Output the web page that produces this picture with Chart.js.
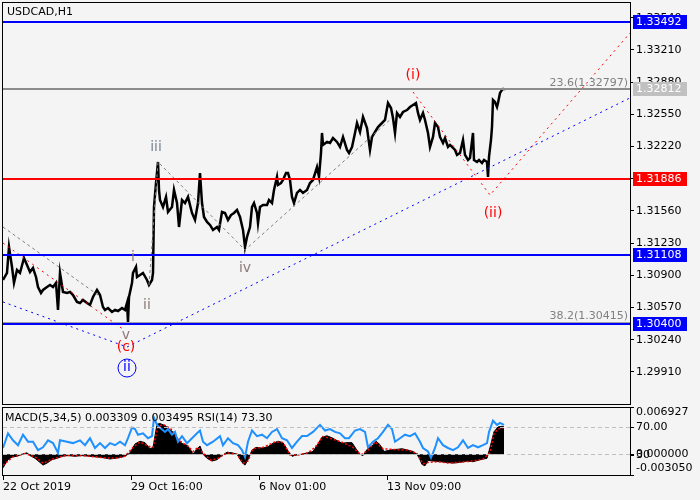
<!DOCTYPE html>
<html>
<head>
<meta charset="utf-8">
<script src="https://cdn.jsdelivr.net/npm/chart.js@4.4.1/dist/chart.umd.min.js"></script>
<style>
  body { margin: 0; background: #f4f4f4; }
  #wrap { position: relative; width: 700px; height: 500px; }
  canvas { position: absolute; left: 0; }
</style>
</head>
<body>
<div id="wrap">
  <canvas id="priceChart" width="700" height="406" style="top:0px"></canvas>
  <canvas id="macdChart" width="700" height="95" style="top:405px"></canvas>
</div>
<script>
// ---- data ----
var symbolTitle = 'USDCAD,H1';
var barCount = 627;

// right price scale
var priceMin = 1.29581;
var priceMax = 1.33691;
var priceTicks = [1.29910, 1.30240, 1.30570, 1.30900, 1.31230, 1.31560, 1.31890, 1.32220, 1.32550, 1.32880, 1.33210, 1.33540];

// time axis (bar index -> label)
var timeLabelBars = [0, 128, 256, 384];
var timeLabels = ['22 Oct 2019', '29 Oct 16:00', '6 Nov 01:00', '13 Nov 09:00'];

// H1 closes, [bar, price]
var priceCloses = [
  [0, 1.30852], [4, 1.30924], [6, 1.31190], [9, 1.30985], [11, 1.30822], [14, 1.30954], [17, 1.30924], [21, 1.31077],
  [24, 1.31006], [27, 1.30934], [30, 1.30975], [33, 1.30883], [35, 1.30780], [38, 1.30719], [40, 1.30750], [44, 1.30780],
  [47, 1.30801], [50, 1.30780], [53, 1.30822], [55, 1.30545], [57, 1.30924], [60, 1.30729], [64, 1.30719], [67, 1.30729],
  [70, 1.30698], [74, 1.30627], [77, 1.30616], [80, 1.30647], [84, 1.30616], [87, 1.30596], [90, 1.30678], [94, 1.30750],
  [97, 1.30698], [100, 1.30575], [102, 1.30545], [105, 1.30565], [109, 1.30524], [112, 1.30545], [115, 1.30534], [119, 1.30565],
  [122, 1.30545], [124, 1.30616], [125, 1.30422], [126, 1.30678], [129, 1.30822], [130, 1.30924], [133, 1.30985], [134, 1.30883],
  [137, 1.30903], [140, 1.30924], [144, 1.30852], [146, 1.30801], [149, 1.30852], [150, 1.30924], [151, 1.31600], [153, 1.31846],
  [155, 1.32062], [156, 1.31775], [157, 1.31672], [160, 1.31600], [163, 1.31703], [165, 1.31549], [169, 1.31600], [171, 1.31775],
  [174, 1.31641], [176, 1.31395], [179, 1.31672], [182, 1.31641], [185, 1.31703], [189, 1.31539], [192, 1.31467], [195, 1.31641],
  [197, 1.31949], [199, 1.31641], [201, 1.31498], [204, 1.31447], [207, 1.31416], [210, 1.31365], [214, 1.31395], [216, 1.31365],
  [219, 1.31549], [222, 1.31539], [225, 1.31467], [228, 1.31518], [231, 1.31539], [234, 1.31570], [237, 1.31498], [240, 1.31365],
  [242, 1.31190], [244, 1.31293], [247, 1.31395], [249, 1.31600], [251, 1.31641], [254, 1.31539], [255, 1.31436], [257, 1.31600],
  [260, 1.31621], [264, 1.31621], [266, 1.31672], [269, 1.31641], [271, 1.31775], [274, 1.31908], [275, 1.31826], [278, 1.31846],
  [280, 1.31877], [283, 1.31949], [285, 1.31949], [287, 1.31877], [289, 1.31703], [291, 1.31641], [294, 1.31744], [297, 1.31775],
  [300, 1.31744], [304, 1.31775], [307, 1.31846], [310, 1.31877], [314, 1.32010], [316, 1.31908], [318, 1.32154], [319, 1.32359],
  [320, 1.32236], [324, 1.32267], [327, 1.32256], [330, 1.32307], [334, 1.32267], [337, 1.32215], [340, 1.32318], [344, 1.32185],
  [346, 1.32154], [349, 1.32215], [352, 1.32359], [354, 1.32461], [357, 1.32369], [360, 1.32523], [364, 1.32410], [367, 1.32185],
  [369, 1.32318], [372, 1.32369], [375, 1.32420], [379, 1.32461], [382, 1.32492], [385, 1.32666], [388, 1.32615], [390, 1.32512],
  [392, 1.32359], [394, 1.32564], [397, 1.32523], [400, 1.32574], [404, 1.32594], [407, 1.32625], [410, 1.32646], [413, 1.32666],
  [415, 1.32564], [417, 1.32492], [420, 1.32564], [422, 1.32492], [425, 1.32359], [427, 1.32215], [430, 1.32318], [432, 1.32461],
  [435, 1.32420], [437, 1.32318], [440, 1.32256], [442, 1.32307], [445, 1.32215], [447, 1.32236], [450, 1.32205], [452, 1.32185],
  [454, 1.32134], [457, 1.32154], [460, 1.32287], [462, 1.32134], [465, 1.32082], [467, 1.32103], [470, 1.32359], [471, 1.32082],
  [474, 1.32062], [476, 1.32082], [479, 1.32051], [481, 1.32082], [484, 1.32062], [485, 1.31908], [486, 1.32113], [488, 1.32287],
  [489, 1.32420], [490, 1.32697], [492, 1.32677], [494, 1.32625], [495, 1.32666], [497, 1.32769], [499, 1.32800], [500, 1.32810],
  [501, 1.32820]
];

// horizontal levels and fibo levels
var levelValues = [1.33492, 1.32812, 1.31886, 1.31108, 1.30400];
var fibLevels = [1.32797, 1.30415];
var fibNames = ['23.6', '38.2'];

// trend lines, [bar, price]
var blueTrend = [[0, 1.30627], [124, 1.30165], [627, 1.32718]];
var redTrendA = [[0, 1.31231], [121, 1.30340]];
var redTrendB = [[410, 1.32779], [487, 1.31723], [627, 1.33384]];
var grayTrendA = [[0, 1.31395], [95, 1.30698]];
var grayTrendB = [[146, 1.30801], [155, 1.32062], [242, 1.31160], [389, 1.32513]];

// wave marks
var waveText = ['i', 'ii', 'iii', 'iv', 'v', '(c)', 'ii', '(i)', '(ii)'];
var waveBar = [130, 144, 153, 242, 123, 123, 124, 410, 490];
var wavePrice = [1.31088, 1.30596, 1.32216, 1.30975, 1.30288, 1.30165, 1.29960, 1.32953, 1.31539];

// MACD histogram [bar, value]
var macdMain = [
  [0, -0.0020], [2, -0.0015], [5, -0.0008], [9, -0.0004], [14, -0.0003], [19, 0.0000], [24, 0.0002], [27, -0.0002],
  [32, -0.0006], [37, -0.0012], [40, -0.0016], [44, -0.0013], [49, -0.0008], [54, -0.0006], [59, -0.0003], [65, -0.0002],
  [72, -0.0003], [79, -0.0002], [87, -0.0003], [94, -0.0004], [100, -0.0005], [107, -0.0007], [112, -0.0006], [117, -0.0005],
  [122, -0.0003], [127, 0.0002], [132, 0.0015], [137, 0.0019], [142, 0.0017], [147, 0.0008], [150, 0.0010], [154, 0.0044],
  [157, 0.0045], [162, 0.0042], [167, 0.0036], [172, 0.0030], [176, 0.0019], [180, 0.0015], [184, 0.0013], [187, 0.0008],
  [190, 0.0000], [194, 0.0008], [197, 0.0012], [200, 0.0000], [204, -0.0006], [209, -0.0010], [214, -0.0008], [219, -0.0002],
  [224, 0.0003], [229, 0.0002], [234, 0.0000], [239, -0.0012], [242, -0.0016], [245, -0.0008], [249, 0.0006], [253, 0.0010],
  [259, 0.0009], [265, 0.0011], [270, 0.0016], [275, 0.0019], [280, 0.0017], [285, 0.0005], [289, -0.0003], [294, -0.0001],
  [299, 0.0000], [305, 0.0002], [310, 0.0004], [315, 0.0015], [319, 0.0025], [324, 0.0027], [329, 0.0024], [334, 0.0020],
  [339, 0.0016], [344, 0.0017], [349, 0.0017], [353, 0.0008], [357, 0.0000], [360, -0.0002], [364, 0.0007], [369, 0.0012],
  [373, 0.0019], [377, 0.0014], [381, 0.0004], [387, 0.0006], [393, 0.0007], [399, 0.0008], [405, 0.0006], [410, 0.0004],
  [414, 0.0000], [417, -0.0008], [419, -0.0015], [422, -0.0017], [425, -0.0009], [430, -0.0010], [437, -0.0011], [444, -0.0012],
  [450, -0.0013], [457, -0.0012], [464, -0.0010], [470, -0.0011], [477, -0.0008], [484, -0.0006], [487, 0.0010], [491, 0.0033],
  [495, 0.0040], [499, 0.0041], [501, 0.0040]
];

// MACD signal [bar, value]
var macdSignal = [
  [0, -0.0016], [10, -0.0004], [22, 0.0001], [32, -0.0004], [40, -0.0013], [50, -0.0007], [62, -0.0002], [80, -0.0002],
  [100, -0.0005], [112, -0.0006], [122, -0.0003], [130, 0.0010], [137, 0.0018], [145, 0.0012], [150, 0.0010], [155, 0.0040],
  [160, 0.0044], [168, 0.0037], [176, 0.0020], [185, 0.0012], [190, 0.0004], [195, 0.0010], [200, 0.0002], [208, -0.0009],
  [215, -0.0006], [224, 0.0002], [234, 0.0000], [240, -0.0013], [245, -0.0010], [250, 0.0008], [260, 0.0010], [272, 0.0018],
  [280, 0.0017], [287, -0.0001], [295, -0.0001], [305, 0.0002], [312, 0.0010], [320, 0.0026], [330, 0.0022], [340, 0.0017],
  [350, 0.0010], [358, -0.0001], [365, 0.0006], [372, 0.0018], [380, 0.0008], [390, 0.0007], [405, 0.0006], [414, 0.0001],
  [420, -0.0014], [425, -0.0012], [435, -0.0011], [445, -0.0013], [455, -0.0012], [470, -0.0010], [480, -0.0007], [487, 0.0002],
  [491, 0.0030], [495, 0.0037], [501, 0.0039]
];

// RSI(14) [bar, value]
var rsiValues = [
  [0, 40], [5, 61], [10, 51], [15, 44], [20, 59], [25, 49], [30, 49], [35, 37], [40, 41], [45, 51], [50, 47], [55, 33],
  [57, 51], [64, 49], [70, 47], [77, 51], [82, 44], [87, 54], [92, 40], [97, 47], [102, 40], [107, 47], [112, 44], [117, 49],
  [122, 44], [125, 54], [129, 69], [132, 67], [135, 59], [140, 61], [145, 54], [149, 57], [151, 83], [154, 73], [157, 69],
  [162, 63], [165, 67], [169, 59], [172, 63], [175, 49], [179, 57], [184, 47], [189, 54], [194, 61], [197, 65], [200, 49],
  [204, 44], [210, 49], [217, 57], [220, 44], [225, 54], [230, 47], [235, 44], [239, 37], [242, 27], [245, 49], [249, 65],
  [254, 57], [259, 59], [264, 54], [269, 63], [274, 67], [279, 54], [284, 51], [289, 40], [294, 49], [299, 57], [304, 57],
  [310, 63], [317, 73], [322, 65], [327, 67], [332, 63], [337, 61], [342, 54], [346, 54], [352, 65], [357, 67], [362, 63],
  [365, 41], [370, 49], [375, 54], [380, 63], [385, 73], [389, 67], [392, 49], [397, 54], [402, 59], [407, 57], [412, 61],
  [417, 49], [420, 40], [425, 35], [428, 26], [432, 40], [435, 54], [440, 44], [445, 40], [450, 37], [455, 41], [460, 51],
  [465, 40], [470, 44], [475, 41], [480, 44], [484, 47], [486, 63], [490, 79], [494, 73], [497, 76], [501, 73]
];

var macdMax = 0.006927;
var macdMin = -0.003050;
var rsiLevels = [70, 30];
var indicatorTitle = 'MACD(5,34,5) 0.003309 0.003495 RSI(14) 73.30';

// ---- styles ----
var bgColor = '#f4f4f4';
var fontFamily = '"DejaVu Sans", Tahoma, sans-serif';
var levelLineColors = ['#0000ff', '#8c8c8c', '#ff0000', '#0000ff', '#0000ff'];
var levelBoxColors = ['#0000ff', '#c0c0c0', '#ff0000', '#0000ff', '#0000ff'];
var waveColors = ['#8c7b78', '#8c7b78', '#7b8796', '#8c7b78', '#8c7b78', '#ff0000', '#0000ff', '#ff0000', '#ff0000'];

Chart.defaults.font.family = fontFamily;
Chart.defaults.font.size = 11;
Chart.defaults.color = '#000';

function toPoints(pairs) {
  return pairs.map(function(p) { return { x: p[0], y: p[1] }; });
}

function trendSet(pairs, color, dash) {
  return {
    data: toPoints(pairs),
    borderColor: color,
    borderWidth: 1,
    borderDash: dash,
    pointRadius: 0,
    fill: false
  };
}

// no extra room for the first/last tick labels
function noPadding(axis) {
  axis.paddingTop = 0;
  axis.paddingBottom = 0;
}

// Draws frame, levels, wave marks and text over the price panel
var priceOverlay = {
  id: 'priceOverlay',
  afterDraw: function(chart) {
    var ctx = chart.ctx;
    var area = chart.chartArea;
    var ys = chart.scales.y;
    var xs = chart.scales.x;
    ctx.save();

    // fibo lines
    fibLevels.forEach(function(v, i) {
      var py = Math.round(ys.getPixelForValue(v));
      ctx.fillStyle = '#a0a0a0';
      ctx.fillRect(area.left, py - 1, area.width, 1);
      ctx.fillStyle = '#808080';
      ctx.font = '11px ' + fontFamily;
      ctx.textAlign = 'right';
      ctx.textBaseline = 'bottom';
      ctx.fillText(fibNames[i] + '(' + v.toFixed(5) + ')', area.right - 2, py - 1);
    });

    // horizontal levels with price boxes
    levelValues.forEach(function(v, i) {
      var py = Math.round(ys.getPixelForValue(v));
      ctx.fillStyle = levelLineColors[i];
      ctx.fillRect(area.left, py - 1, area.width, 2);
      ctx.fillStyle = levelBoxColors[i];
      ctx.fillRect(area.right + 3, py - 7, 54, 14);
      ctx.fillStyle = '#fff';
      ctx.font = '11px ' + fontFamily;
      ctx.textAlign = 'left';
      ctx.textBaseline = 'middle';
      ctx.fillText(v.toFixed(5), area.right + 6, py);
    });

    // wave labels
    ctx.font = '14px ' + fontFamily;
    ctx.textAlign = 'center';
    ctx.textBaseline = 'middle';
    waveText.forEach(function(t, i) {
      var px = xs.getPixelForValue(waveBar[i]);
      var py = ys.getPixelForValue(wavePrice[i]);
      ctx.fillStyle = waveColors[i];
      ctx.fillText(t, px, py);
      if (i === 6) {
        ctx.strokeStyle = waveColors[i];
        ctx.lineWidth = 1;
        ctx.beginPath();
        ctx.arc(px, py + 1, 9, 0, Math.PI * 2);
        ctx.stroke();
      }
    });

    // title
    ctx.fillStyle = '#000';
    ctx.font = '11px ' + fontFamily;
    ctx.textAlign = 'left';
    ctx.textBaseline = 'middle';
    ctx.fillText(symbolTitle, 7, 12);

    // frame
    ctx.strokeStyle = '#000';
    ctx.lineWidth = 1;
    ctx.strokeRect(2.5, 2.5, area.right - 2, area.bottom - 2);
    ctx.restore();
  }
};

// Draws frame, levels and right-hand labels of the indicator panel
var macdOverlay = {
  id: 'macdOverlay',
  afterDraw: function(chart) {
    var ctx = chart.ctx;
    var area = chart.chartArea;
    var ms = chart.scales.yMacd;
    var rs = chart.scales.yRsi;
    ctx.save();

    // dashed levels
    ctx.strokeStyle = '#c0c0c0';
    ctx.lineWidth = 1;
    ctx.setLineDash([4, 3]);
    [rs.getPixelForValue(rsiLevels[0]), ms.getPixelForValue(0)].forEach(function(py) {
      py = Math.round(py) + 0.5;
      ctx.beginPath();
      ctx.moveTo(area.left, py);
      ctx.lineTo(area.right, py);
      ctx.stroke();
    });
    ctx.setLineDash([]);

    // right labels and tick marks
    var marks = [
      [area.top, area.top + 5, macdMax.toFixed(6)],
      [rs.getPixelForValue(rsiLevels[0]), rs.getPixelForValue(rsiLevels[0]), rsiLevels[0].toFixed(2)],
      [ms.getPixelForValue(0), ms.getPixelForValue(0), '0.000000'],
      [rs.getPixelForValue(rsiLevels[1]), rs.getPixelForValue(rsiLevels[1]), String(rsiLevels[1])],
      [area.bottom, area.bottom - 7, macdMin.toFixed(6)]
    ];
    ctx.fillStyle = '#000';
    ctx.strokeStyle = '#000';
    ctx.font = '11px ' + fontFamily;
    ctx.textAlign = 'left';
    ctx.textBaseline = 'middle';
    marks.forEach(function(m) {
      var ty = Math.round(m[0]) + 0.5;
      ctx.beginPath();
      ctx.moveTo(area.right, ty);
      ctx.lineTo(area.right + 4, ty);
      ctx.stroke();
      ctx.fillText(m[2], area.right + 6, m[1]);
    });

    ctx.fillText(indicatorTitle, 5, area.top + 11);

    ctx.strokeRect(2.5, 2.5, area.right - 2, area.bottom - 2);
    ctx.restore();
  }
};

var bgPlugin = {
  id: 'bg',
  beforeDraw: function(chart) {
    var ctx = chart.ctx;
    ctx.save();
    ctx.fillStyle = bgColor;
    ctx.fillRect(0, 0, chart.width, chart.height);
    ctx.restore();
  }
};

// Price panel
new Chart(document.getElementById('priceChart').getContext('2d'), {
  type: 'line',
  data: {
    datasets: [
      trendSet(blueTrend, '#0000ff', [2, 4]),
      trendSet(redTrendA, '#ff0000', [2, 4]),
      trendSet(redTrendB, '#ff0000', [2, 4]),
      trendSet(grayTrendA, '#808080', [3, 3]),
      trendSet(grayTrendB, '#808080', [3, 3]),
      {
        label: 'USDCAD',
        data: toPoints(priceCloses),
        borderColor: '#000',
        borderWidth: 2.5,
        pointRadius: 0,
        fill: false
      }
    ]
  },
  options: {
    responsive: false,
    animation: false,
    layout: { padding: { left: 3, top: 3, right: 0, bottom: 2 } },
    plugins: { legend: { display: false }, tooltip: { enabled: false } },
    scales: {
      x: { type: 'linear', display: false, min: 0, max: barCount },
      y: {
        position: 'right',
        min: priceMin,
        max: priceMax,
        afterBuildTicks: function(axis) {
          axis.ticks = priceTicks.map(function(v) { return { value: v }; });
        },
        afterFit: function(axis) { axis.width = 70; noPadding(axis); },
        grid: { drawOnChartArea: false, drawTicks: true, tickLength: 4, color: '#000' },
        border: { display: true, color: '#000' },
        ticks: {
          padding: 2,
          color: '#000',
          callback: function(v) { return Number(v).toFixed(5); }
        }
      }
    }
  },
  plugins: [bgPlugin, priceOverlay]
});

// Indicator panel
new Chart(document.getElementById('macdChart').getContext('2d'), {
  type: 'line',
  data: {
    datasets: [
      {
        label: 'RSI',
        data: toPoints(rsiValues),
        yAxisID: 'yRsi',
        borderColor: '#1e90ff',
        borderWidth: 2,
        pointRadius: 0,
        fill: false
      },
      {
        label: 'Signal',
        data: toPoints(macdSignal),
        yAxisID: 'yMacd',
        borderColor: '#ff0000',
        borderWidth: 1.5,
        borderDash: [2, 2],
        pointRadius: 0,
        fill: false
      },
      {
        label: 'MACD',
        data: toPoints(macdMain),
        yAxisID: 'yMacd',
        borderColor: '#000',
        backgroundColor: '#000',
        borderWidth: 1,
        pointRadius: 0,
        fill: 'origin'
      }
    ]
  },
  options: {
    responsive: false,
    animation: false,
    layout: { padding: { left: 3, top: 2, right: 0, bottom: 0 } },
    plugins: { legend: { display: false }, tooltip: { enabled: false } },
    scales: {
      x: {
        type: 'linear',
        min: 0,
        max: barCount,
        afterBuildTicks: function(axis) {
          axis.ticks = timeLabelBars.map(function(v) { return { value: v }; });
        },
        afterFit: function(axis) { axis.height = 25; },
        grid: { drawOnChartArea: false, drawTicks: true, tickLength: 5, color: '#000' },
        border: { display: false },
        ticks: {
          align: 'start',
          padding: 1,
          maxRotation: 0,
          autoSkip: false,
          color: '#000',
          callback: function(v, i) { return timeLabels[i]; }
        }
      },
      yMacd: {
        position: 'right',
        min: macdMin,
        max: macdMax,
        afterFit: function(axis) { axis.width = 70; noPadding(axis); },
        grid: { display: false },
        border: { display: true, color: '#000' },
        ticks: { display: false }
      },
      yRsi: { position: 'left', display: false, min: 1.4, max: 98.6 }
    }
  },
  plugins: [bgPlugin, macdOverlay]
});
</script>
</body>
</html>
